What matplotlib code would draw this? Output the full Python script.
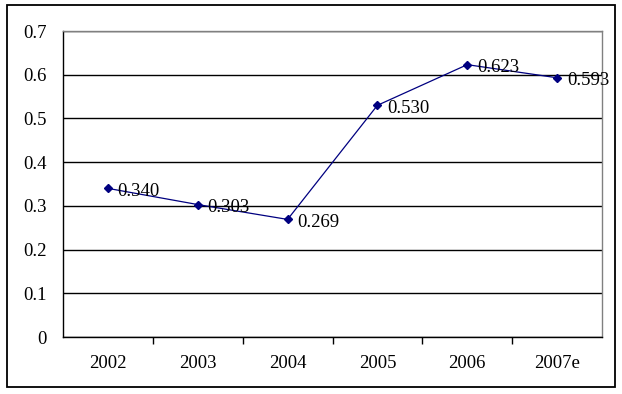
import matplotlib.pyplot as plt
from matplotlib.patches import Rectangle
from matplotlib.ticker import FixedLocator, NullFormatter

years = ["2002", "2003", "2004", "2005", "2006", "2007e"]
values = [0.340, 0.303, 0.269, 0.530, 0.623, 0.593]
y_ticks = [0, 0.1, 0.2, 0.3, 0.4, 0.5, 0.6, 0.7]
y_tick_labels = ["0", "0.1", "0.2", "0.3", "0.4", "0.5", "0.6", "0.7"]

plt.rcParams['font.family'] = ['Liberation Serif', 'DejaVu Serif']

fig = plt.figure(figsize=(6.22, 3.94), dpi=100)
ax = fig.add_axes([63 / 622, 1 - 337 / 394, 539 / 622, 306 / 394])

# outer chart frame
fig.patches.append(Rectangle((7 / 622, 1 - 387 / 394), 608 / 622, 382 / 394,
                             transform=fig.transFigure, fill=False,
                             edgecolor='black', linewidth=1.3))

x = list(range(len(years)))
ax.plot(x, values, color='#000080', linewidth=0.9, marker='D', markersize=4,
        markerfacecolor='#000080', markeredgecolor='#000080', zorder=3)

for xi, v in zip(x, values):
    ax.annotate(f"{v:.3f}", (xi, v), xytext=(7, -2), textcoords='offset points',
                ha='left', va='center', fontsize=13.5, color='black')

ax.set_xlim(-0.5, len(years) - 0.5)
ax.set_ylim(0, 0.7)
ax.set_yticks(y_ticks)
ax.set_yticklabels(y_tick_labels)
ax.set_xticks(x)
ax.set_xticklabels(years)
ax.xaxis.set_minor_locator(FixedLocator([i + 0.5 for i in range(len(years) - 1)]))
ax.xaxis.set_minor_formatter(NullFormatter())
ax.tick_params(axis='x', which='major', length=0, pad=13, labelsize=13.5)
ax.tick_params(axis='x', which='minor', length=5, width=1, direction='out')
ax.tick_params(axis='y', length=0, pad=12, labelsize=13.5)

ax.grid(axis='y', color='black', linewidth=1)
ax.set_axisbelow(True)
for side in ['left', 'bottom']:
    ax.spines[side].set_color('black')
    ax.spines[side].set_linewidth(1)
for side in ['top', 'right']:
    ax.spines[side].set_color('#808080')
    ax.spines[side].set_linewidth(1)

fig.savefig("out.png", dpi=100)
